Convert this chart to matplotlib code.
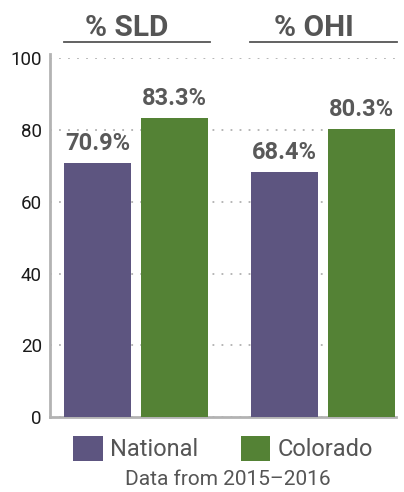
import numpy as np
import matplotlib.pyplot as plt
import matplotlib.transforms as mtransforms
from matplotlib.patches import Patch

plt.rcParams['font.family'] = ['Roboto', 'DejaVu Sans']

# data
groups = ['% SLD', '% OHI']
series = ['National', 'Colorado']
national = [70.9, 68.4]
colorado = [83.3, 80.3]
yticks = [0, 20, 40, 60, 80, 100]
colors = ['#5d5580', '#548235']
note = 'Data from 2015\u20132016'

fig = plt.figure(figsize=(4.04, 4.92), dpi=100)
ax = fig.add_axes([0.124, 0.152, 0.856, 0.73])

x = np.arange(len(groups))
w = 0.358
off = 0.206
b1 = ax.bar(x - off, national, w, color=colors[0], zorder=3)
b2 = ax.bar(x + off, colorado, w, color=colors[1], zorder=3)

for bars, vals in [(b1, national), (b2, colorado)]:
    for b, v in zip(bars, vals):
        ax.text(b.get_x() + b.get_width() / 2, v + 2.2, f'{v}%', ha='center', va='bottom',
                fontsize=17, fontweight='bold', color='#595959')

ax.set_xlim(-0.46, 1.39)
ax.set_ylim(0, 100)
ax.set_yticks(yticks)
ax.set_xticks([])
ax.tick_params(axis='y', length=0, labelsize=13.5, colors='#1a1a1a', pad=6)
ax.grid(axis='y', linestyle=(0, (1, 4)), color='#b0b0b0', linewidth=1.3, zorder=0)
for s in ['top', 'right']:
    ax.spines[s].set_visible(False)
ax.spines['left'].set_color('#b3b3b3')
ax.spines['left'].set_linewidth(2)
ax.spines['bottom'].set_color('#b3b3b3')
ax.spines['bottom'].set_linewidth(2)
ax.spines['left'].set_bounds(0, 101)

# group headers with underline
trans = mtransforms.blended_transform_factory(ax.transData, ax.transAxes)
for xi, g in zip(x, groups):
    ax.text(xi - 0.05, 1.085, g, transform=trans, ha='center', va='center',
            fontsize=21.5, fontweight='bold', color='#555555')
    ax.plot([xi - 0.388, xi + 0.395], [1.046, 1.046], transform=trans, color='#555555',
            linewidth=1.3, clip_on=False)

handles = [Patch(facecolor=c, edgecolor='none') for c in colors]
leg = fig.legend(handles, series, loc='center', bbox_to_anchor=(0.552, 0.088), ncol=2,
                 frameon=False, fontsize=17, handlelength=1.25, handleheight=1.25,
                 handletextpad=0.3, columnspacing=1.8, labelcolor='#555555')

fig.text(0.564, 0.026, note, ha='center', va='center', fontsize=15, color='#555555')

fig.savefig('out.png', dpi=100)
